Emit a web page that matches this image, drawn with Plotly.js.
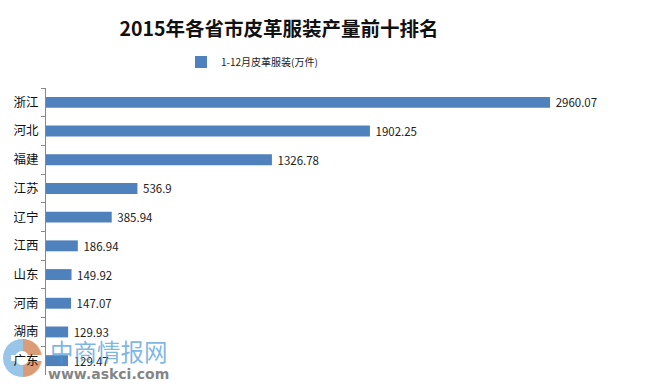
<!DOCTYPE html>
<html>
<head>
<meta charset="utf-8">
<script src="https://cdn.plot.ly/plotly-3.0.1.min.js"></script>
<style>html,body{margin:0;padding:0;background:#fff;}#chart{width:657px;height:387px;}</style>
</head>
<body>
<div id="chart"></div>
<script>
const provinces = ["浙江","河北","福建","江苏","辽宁","江西","山东","河南","湖南","广东"];
const output = [2960.07, 1902.25, 1326.78, 536.9, 385.94, 186.94, 149.92, 147.07, 129.93, 129.47];
const valueLabels = ["2960.07","1902.25","1326.78","536.9","385.94","186.94","149.92","147.07","129.93","129.47"];
const seriesName = "1-12月皮革服装(万件)";
const chartTitle = "2015年各省市皮革服装产量前十排名";

const FONT = '"Noto Sans CJK SC", "Noto Sans", sans-serif';

const trace = {
  type: 'bar',
  orientation: 'h',
  y: provinces,
  x: output,
  name: seriesName,
  text: valueLabels,
  texttemplate: '\u00a0%{text}',
  textposition: 'outside',
  constraintext: 'none',
  textfont: {family: FONT, size: 11.5, color: '#222'},
  cliponaxis: false,
  marker: {color: '#4F81BD'},
  width: 0.38,
  hoverinfo: 'y+x'
};

const plotW = 657 - 46 - 15, plotH = 387 - 88 - 12;
function px(xp){ return (xp - 46) / plotW; }
function py(yp){ return (375 - yp) / plotH; }

// watermark logo geometry (decorative, pixel-based)
const cx = 22, cy = 358, r = 19;
let halfPath = 'M ' + px(cx + 1) + ' ' + py(cy - r);
for (let k = 1; k <= 24; k++) {
  const a = -Math.PI / 2 + Math.PI * k / 24;
  halfPath += ' L ' + px(cx + 1 + r * Math.cos(a)) + ' ' + py(cy + r * Math.sin(a));
}
halfPath += ' Z';

const layout = {
  width: 657, height: 387,
  margin: {l: 46, r: 15, t: 88, b: 12},
  paper_bgcolor: '#fff', plot_bgcolor: 'rgba(0,0,0,0)',
  font: {family: FONT, size: 12, color: '#000'},
  title: {
    text: '<b>' + chartTitle + '</b>',
    font: {family: FONT, size: 19.5, color: '#111'},
    x: 279/657, xref: 'container', xanchor: 'center',
    y: 1 - 29/387, yref: 'container', yanchor: 'middle'
  },
  showlegend: true,
  legend: {
    orientation: 'h',
    x: px(252), xanchor: 'center',
    y: 1 + (88 - 62) / plotH, yanchor: 'middle',
    font: {family: FONT, size: 10, color: '#222'},
    itemwidth: 30,
    bgcolor: 'rgba(0,0,0,0)'
  },
  xaxis: {
    range: [0, 3500],
    visible: false,
    fixedrange: true
  },
  yaxis: {
    type: 'category',
    autorange: 'reversed',
    showline: true, linecolor: '#888', linewidth: 1,
    ticks: 'outside', ticklen: 4, tickcolor: '#888',
    tickson: 'boundaries',
    tickfont: {family: FONT, size: 12.5, color: '#111'},
    ticklabelstandoff: 4,
    showgrid: false, zeroline: false,
    fixedrange: true
  },
  shapes: [
    {type: 'circle', xref: 'paper', yref: 'paper', layer: 'below',
     x0: px(cx - r), x1: px(cx + r), y0: py(cy + r), y1: py(cy - r),
     fillcolor: 'rgba(70,150,215,0.55)', line: {width: 0}},
    {type: 'path', xref: 'paper', yref: 'paper', layer: 'below',
     path: halfPath,
     fillcolor: 'rgba(240,140,80,0.75)', line: {width: 0}},
    {type: 'rect', xref: 'paper', yref: 'paper', layer: 'below',
     x0: px(11), x1: px(42), y0: py(361), y1: py(355),
     fillcolor: '#ffffff', line: {width: 0}},
    {type: 'circle', xref: 'paper', yref: 'paper', layer: 'below',
     x0: px(cx - 7), x1: px(cx + 7), y0: py(cy + 7), y1: py(cy - 7),
     fillcolor: '#ffffff', line: {width: 0}}
  ],
  annotations: [
    {text: '中商情报网', xref: 'paper', yref: 'paper', showarrow: false,
     x: px(109), y: py(351), xanchor: 'center', yanchor: 'middle',
     font: {family: FONT, size: 23.5, color: 'rgba(70,150,215,0.7)'}},
    {text: '<b>www.askci.com</b>', xref: 'paper', yref: 'paper', showarrow: false,
     x: px(108), y: py(374), xanchor: 'center', yanchor: 'middle',
     font: {family: 'DejaVu Sans, sans-serif', size: 14, color: 'rgba(110,110,110,0.85)'}}
  ]
};

Plotly.newPlot('chart', [trace], layout, {displayModeBar: false, staticPlot: true});
</script>
</body>
</html>
